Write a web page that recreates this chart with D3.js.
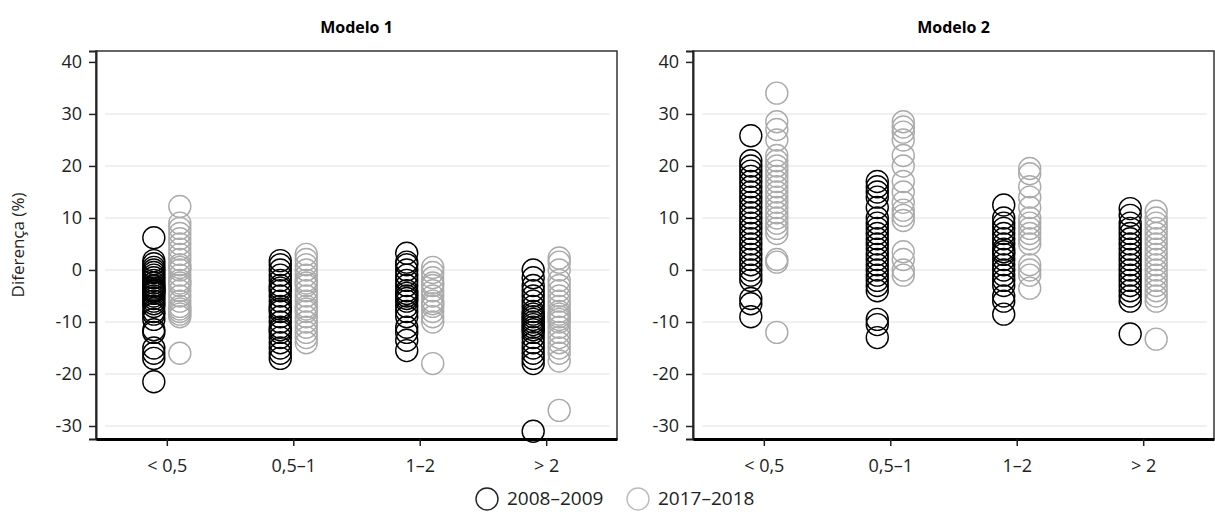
<!DOCTYPE html>
<html>
<head>
<meta charset="utf-8">
<script src="https://cdn.jsdelivr.net/npm/d3@7"></script>
<style>
  body { margin: 0; background: #fff; }
  text { font-family: "Open Sans", "Lato", sans-serif; }
</style>
</head>
<body>
<div id="chart"></div>
<script>
// categories and series
var categories = ["< 0,5", "0,5–1", "1–2", "> 2"];
var seriesNames = ["2008–2009", "2017–2018"];
var panelTitles = ["Modelo 1", "Modelo 2"];
var yTicks = [-30, -20, -10, 0, 10, 20, 30, 40];

// Modelo 1, 2008-2009 (one array per category)
var m1_2008 = [
  [6.2, 1.8, 1.2, 0.5, 0, -0.5, -1, -1.5, -2, -2.5, -3, -3.2, -3.5, -3.8, -4, -4.2, -4.5, -5, -5.5, -6, -6.5, -7, -8, -8.5, -9.5, -11.5, -12, -15, -16, -17, -21.5],
  [1.8, 1, 0, -1, -2, -3, -3.5, -4, -5, -6, -7, -7.5, -8, -9, -10, -11, -11.5, -12, -13, -14, -15, -16, -17],
  [3.2, 1.5, 1, 0, -1, -2, -3, -4, -4.5, -5, -5.5, -6, -7, -8, -9, -11, -12, -13.5, -15.5],
  [0, -1.5, -3, -4, -5, -6, -7, -8, -8.5, -9, -9.5, -10, -10.5, -11, -11.5, -12, -13, -14, -15, -16, -17, -18, -31]
];
// Modelo 1, 2017-2018
var m1_2017 = [
  [12.2, 9, 8, 7, 6, 5, 4, 3, 2, 1, 0.5, 0, -1, -2, -2.5, -3, -4, -5, -6, -7, -7.5, -8, -8.5, -9, -16],
  [3, 2, 1, 0, -1, -2, -2.5, -3, -4, -5, -6, -7, -7.5, -8, -9, -10, -11, -12, -13, -14],
  [0.5, -0.5, -1.5, -2.5, -3, -4, -5, -6, -6.5, -7, -8, -9, -10, -18],
  [2.3, 1.5, 0, -2, -3, -4, -5, -6, -7, -8, -8.5, -9, -9.5, -10, -11, -12, -13, -14, -15, -16, -17.5, -27]
];
// Modelo 2, 2008-2009
var m2_2008 = [
  [25.8, 21, 20, 19, 18, 17, 16, 15, 14, 13, 12, 11, 10, 9, 8, 7, 6, 5, 4, 3, 2, 1, 0, -1, -2, -5.5, -6.5, -9],
  [17, 16, 15, 14, 12, 10, 9, 8, 7, 6, 5, 4, 3, 2, 1, 0, -1, -2, -3, -4, -9.5, -10.5, -13],
  [12.5, 10, 9, 8, 7, 6, 5, 4, 3.5, 3, 2, 1, 0, -1, -2, -3, -5, -6, -8.5],
  [11.8, 10.5, 9, 8, 7, 6, 5, 4, 3, 2, 1, 0, -1, -2, -3, -4, -5, -6, -12.3]
];
// Modelo 2, 2017-2018
var m2_2017 = [
  [34, 28.5, 27, 25, 22, 21, 20, 19, 18, 17, 16, 15, 14, 13, 12, 11, 10, 9, 8, 7, 2, 1.5, -12],
  [28.5, 27.5, 26.5, 25, 22, 20, 17, 15, 13, 11.5, 10.5, 9.5, 3.5, 2, 0, -1],
  [19.5, 18.5, 16, 14, 12, 10, 9, 8, 7, 6, 5, 1, 0, -1, -3.5],
  [11.3, 10, 9, 8, 7, 6, 5, 4, 3, 2, 1, 0, -1, -2, -3, -4, -5, -6, -13.3]
];

var panels = [
  { title: panelTitles[0], series: [m1_2008, m1_2017] },
  { title: panelTitles[1], series: [m2_2008, m2_2017] }
];
var colors = ["#000000", "#aaaaaa"];

var W = 1215, H = 512;
var plotTop = 51, plotBottom = 439, pw = 521;
var panelLeft = [96, 693];
var r = 11, offset = 13;

var svg = d3.select("#chart").append("svg")
    .attr("width", W)
    .attr("height", H);

var y = d3.scaleLinear()
    .domain([-32.5, 42.1])
    .range([plotBottom, plotTop]);

panels.forEach(function (p, pi) {
    var g = svg.append("g")
        .attr("transform", "translate(" + panelLeft[pi] + ",0)");

    var x = d3.scalePoint()
        .domain(categories)
        .range([0, pw])
        .padding(0.56);

    // gridlines
    g.selectAll(".grid")
        .data(yTicks.filter(function (d) { return d < 40; }))
        .enter()
        .append("line")
        .attr("x1", 9)
        .attr("x2", pw - 7)
        .attr("y1", function (d) { return y(d); })
        .attr("y2", function (d) { return y(d); })
        .attr("stroke", "#ebebeb")
        .attr("stroke-width", 1.5);

    // points
    p.series.forEach(function (ser, si) {
        var pts = [];
        ser.forEach(function (vals, ci) {
            vals.forEach(function (v) {
                pts.push({ cat: categories[ci], value: v });
            });
        });
        g.selectAll(null)
            .data(pts)
            .enter()
            .append("circle")
            .attr("cx", function (d) { return x(d.cat) + (si === 0 ? -offset : offset); })
            .attr("cy", function (d) { return y(d.value); })
            .attr("r", r)
            .attr("fill", "none")
            .attr("stroke", colors[si])
            .attr("stroke-width", 1.4);
    });

    // frame
    g.append("rect")
        .attr("x", 0)
        .attr("y", plotTop)
        .attr("width", pw)
        .attr("height", plotBottom - plotTop)
        .attr("fill", "none")
        .attr("stroke", "#333")
        .attr("stroke-width", 1.5);

    // y axis
    var yaxis = g.append("g")
        .call(d3.axisLeft(y).tickValues(yTicks).tickSize(7).tickPadding(7)
            .tickFormat(function (d) { return String(d); }));
    yaxis.select(".domain").attr("stroke", "#222").attr("stroke-width", 2);
    yaxis.selectAll(".tick line").attr("stroke", "#222").attr("stroke-width", 1.5);
    yaxis.selectAll("text")
        .attr("font-size", "18px")
        .attr("fill", "#222");

    // x axis
    var xaxis = g.append("g")
        .attr("transform", "translate(0," + plotBottom + ")")
        .call(d3.axisBottom(x).tickSize(7).tickPadding(13).tickSizeOuter(0));
    xaxis.select(".domain").attr("stroke", "#000").attr("stroke-width", 3);
    xaxis.selectAll(".tick line").attr("stroke", "#222").attr("stroke-width", 1.5);
    xaxis.selectAll("text")
        .attr("font-size", "18px")
        .attr("fill", "#222");

    // title
    g.append("text")
        .attr("x", pw / 2)
        .attr("y", 33)
        .attr("text-anchor", "middle")
        .style("font-size", "16px")
        .style("font-weight", "bold")
        .text(p.title);
});

// y label
svg.append("text")
    .attr("transform", "translate(24,245) rotate(-90)")
    .attr("text-anchor", "middle")
    .style("font-size", "17px")
    .attr("fill", "#222")
    .text("Diferença (%)");

// legend
var legendX = [487, 638];
seriesNames.forEach(function (name, i) {
    svg.append("circle")
        .attr("cx", legendX[i])
        .attr("cy", 499)
        .attr("r", r)
        .attr("fill", "none")
        .attr("stroke", i === 0 ? "#222" : "#bbb")
        .attr("stroke-width", 1.4);
    svg.append("text")
        .attr("x", legendX[i] + 20)
        .attr("y", 505)
        .style("font-size", "19px")
        .attr("fill", "#222")
        .text(name);
});
</script>
</body>
</html>
